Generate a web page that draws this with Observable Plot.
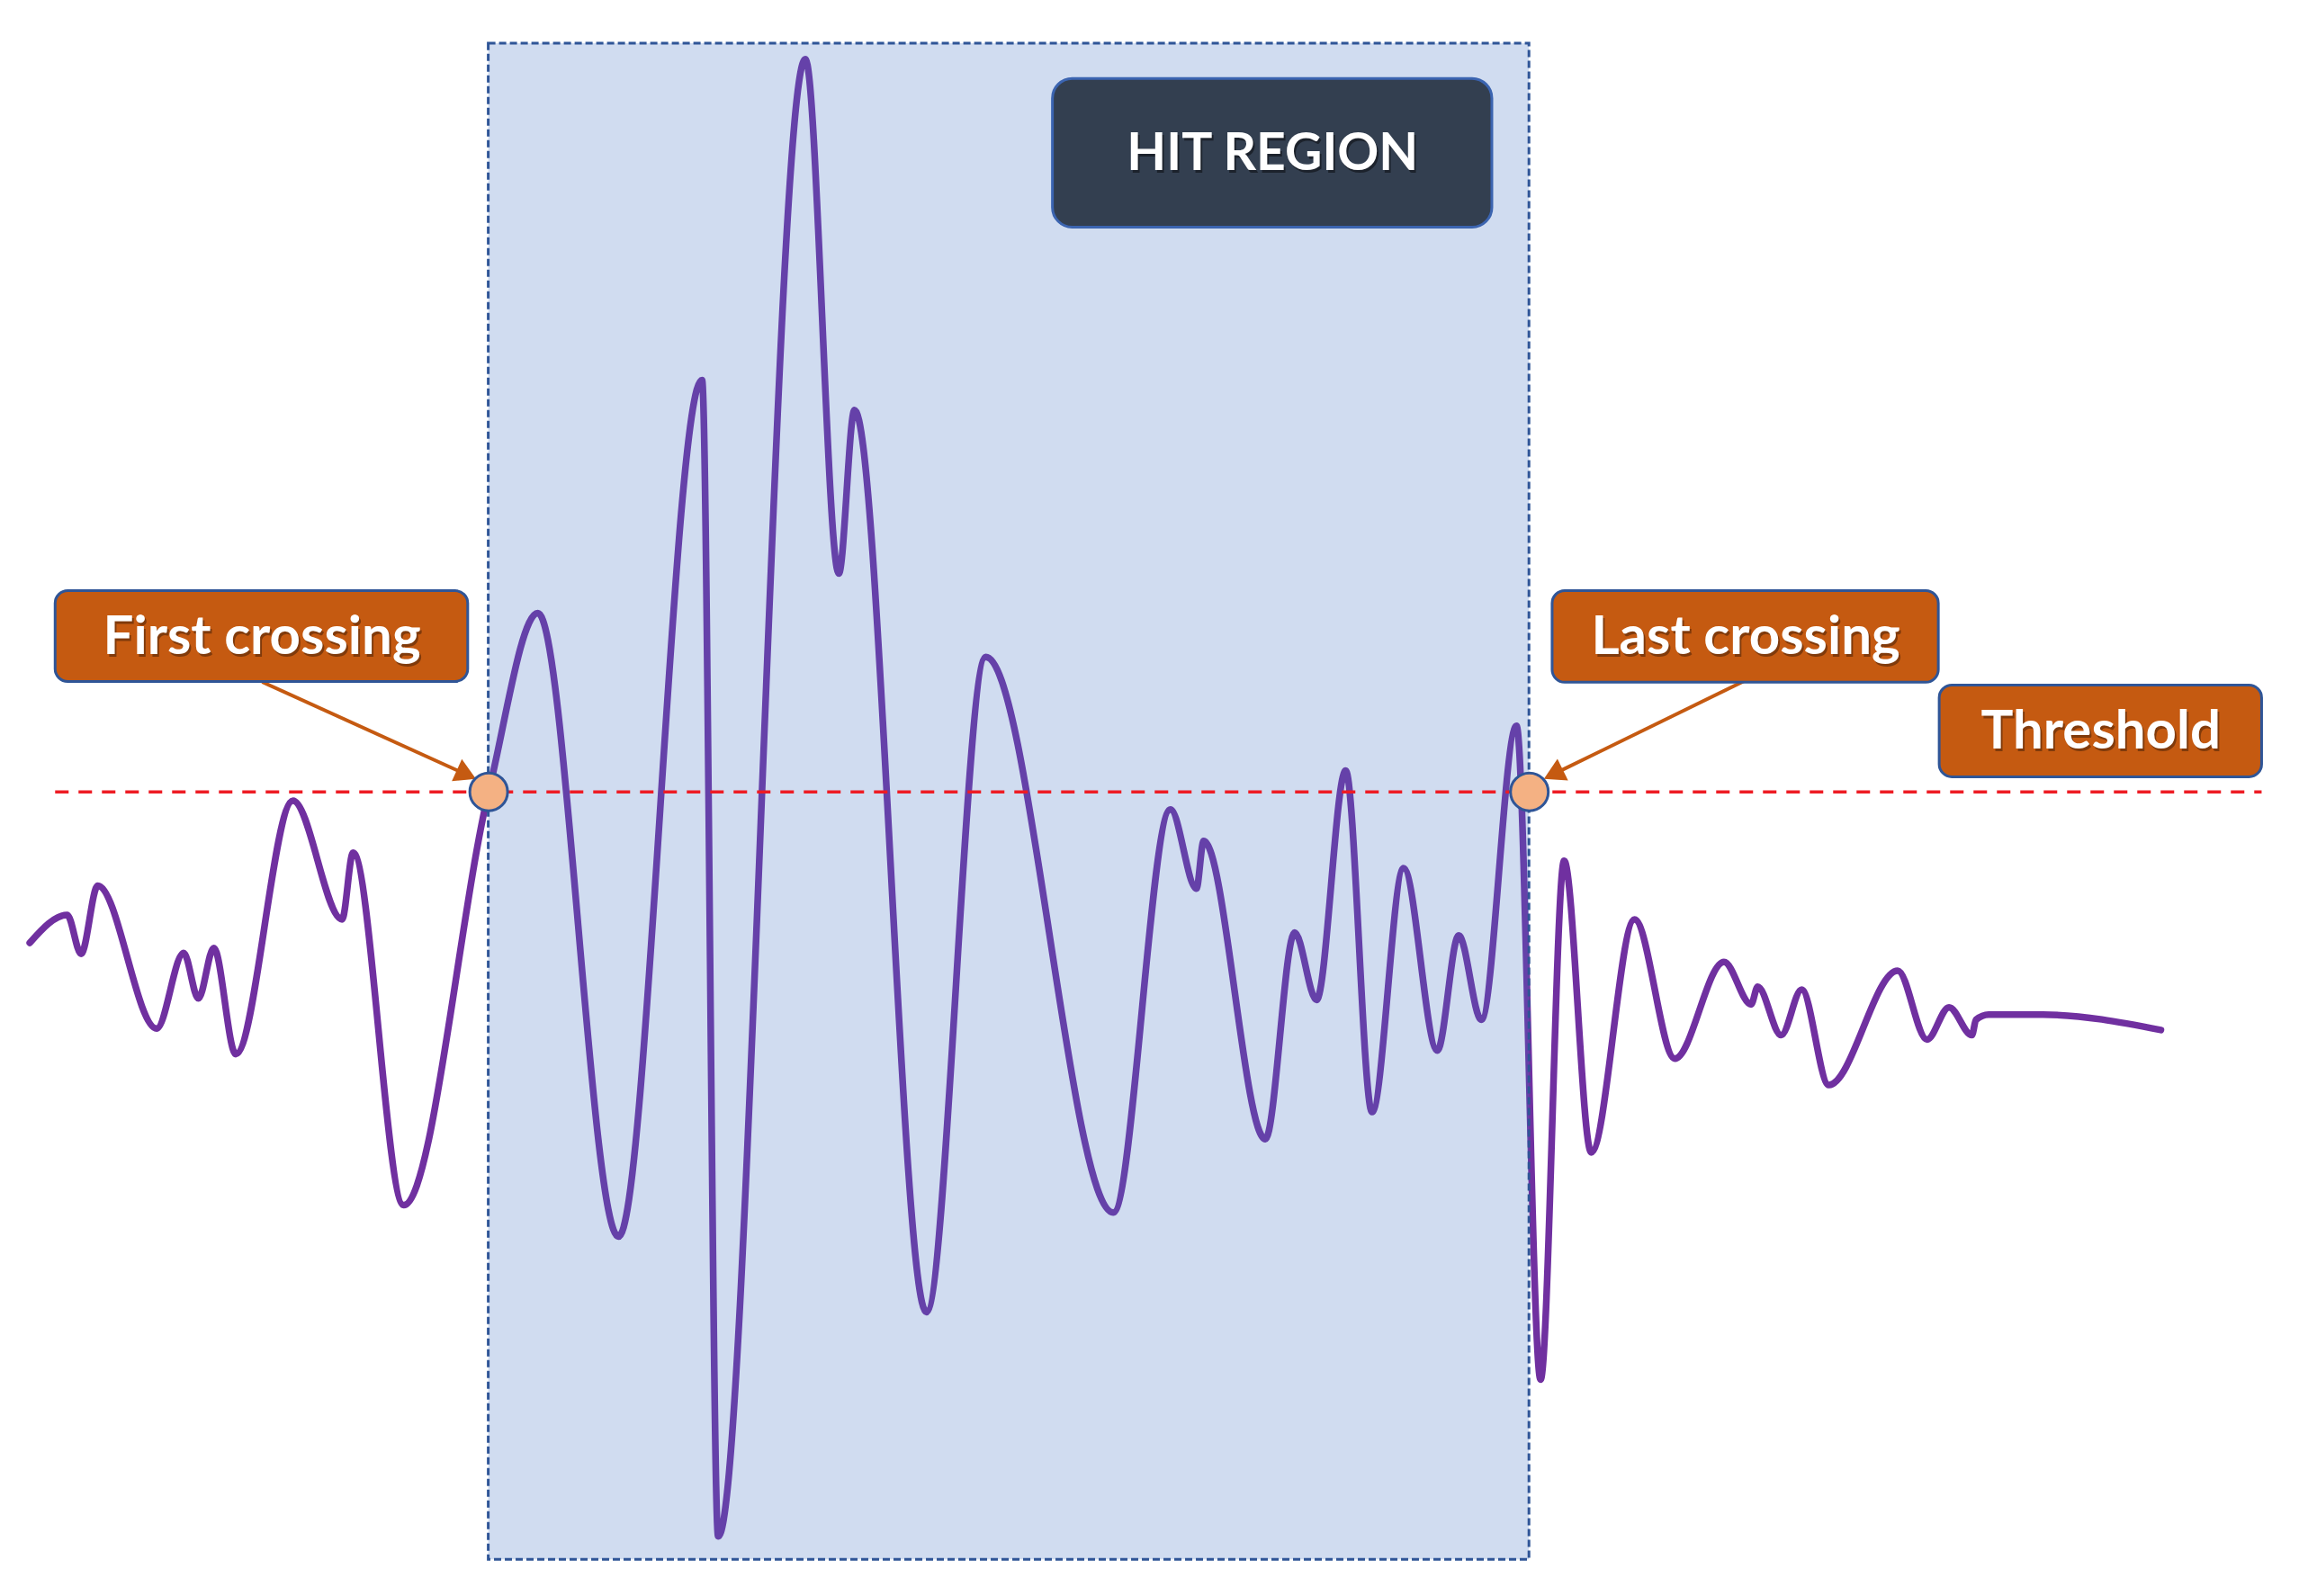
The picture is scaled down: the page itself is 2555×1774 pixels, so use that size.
<!DOCTYPE html>
<html>
<head>
<meta charset="utf-8">
<script src="https://cdn.jsdelivr.net/npm/d3@7"></script>
<script src="https://cdn.jsdelivr.net/npm/@observablehq/plot@0.6"></script>
<style>
  html, body { margin: 0; padding: 0; background: #ffffff; overflow: hidden; }
  #chart svg { display: block; }
</style>
</head>
<body>
<div id="chart"></div>
<script>
// ---- Waveform (time in samples, amplitude in % of peak; threshold = 0) ----
const times = [20, 45.5, 55, 66.4, 106.5, 125, 135, 145.5, 160.5, 199.5, 233, 240.5, 275, 333,
  366.5, 421.5, 478.5, 489.5, 549, 571.8, 582.5, 631.5, 672, 759, 798, 815.7, 820.6, 862.7,
  882.7, 897.6, 917.5, 935.5, 957, 980, 994.6, 1010, 1034, 1050.4, 1066.5, 1085, 1114.5,
  1142, 1175.5, 1194, 1198.5, 1214.5, 1228.5, 1247, 1294, 1314, 1329, 1344.6, 1347.4,
  1356, 1393, 1473.5];
const amps = [-20.6, -16.8, -22.1, -12.8, -32.3, -22, -28.2, -21.3, -35.8, -1.2, -17.4, -8.3, -56.4, 0,
  24.4, -60.7, 56.2, -101.6, 100, 29.8, 52.1, -71, 18.4, -57.4, -2.4, -13.2, -6.7, -47.4,
  -19.2, -28.4, 2.9, -43.7, -10.4, -35.3, -19.6, -31.1, 9, -80.2, -9.4, -49.2, -17.4,
  -36.4, -23.2, -29, -26.6, -33.2, -27, -40, -24.4, -33.8, -29.4, -33.2, -31.1,
  -30.4, -30.4, -32.5];

// ---- Threshold and crossings ----
const thresholdLevel = 0;
const thresholdSpan = [37.6, 1542.5];
const crossingTimes = [333, 1042.8];
const hitRegionAmps = [102.1, -104.8];

// ---- Labels ----
const labelNames = ["First crossing", "Last crossing", "Threshold"];
const labelT1 = [37.6, 1058.6, 1322.6];
const labelT2 = [319, 1322, 1542.5];
const labelA1 = [27.4, 27.4, 14.5];
const labelA2 = [15.0, 14.9, 2.0];

const titleText = "HIT REGION";
const titleBox = {t1: 717.8, t2: 1017.5, a1: 97.3, a2: 77.0};

// ---- Arrows (label -> crossing) ----
const arrowStartT = [178.5, 1189];
const arrowStartA = [15.0, 15.1];
const arrowTipT = [324, 1053];
const arrowTipA = [1.8, 1.8];

// ---- Scales ----
const W = 2555, H = 1774;
const xDomain = [0, 1568];
const yDomain = [-109.8, 108];
const pxPerT = W / (xDomain[1] - xDomain[0]);
const pxPerA = H / (yDomain[1] - yDomain[0]);

const wave = times.map((t, i) => ({t, a: amps[i]}));
const labels = labelNames.map((name, i) => ({
  name, t1: labelT1[i], t2: labelT2[i], a1: labelA1[i], a2: labelA2[i],
  tc: (labelT1[i] + labelT2[i]) / 2, ac: (labelA1[i] + labelA2[i]) / 2
}));
const titles = [{...titleBox, name: titleText, tc: (titleBox.t1 + titleBox.t2) / 2, ac: (titleBox.a1 + titleBox.a2) / 2}];
const region = [{t1: crossingTimes[0], t2: crossingTimes[1], a1: hitRegionAmps[0], a2: hitRegionAmps[1]}];
const crossings = crossingTimes.map(t => ({t, a: thresholdLevel}));

const headBack = 15; // px the triangle centroid sits behind the tip
const arrows = arrowStartT.map((t0, i) => {
  const dxp = (arrowTipT[i] - t0) * pxPerT;
  const dyp = -(arrowTipA[i] - arrowStartA[i]) * pxPerA; // screen y down
  const len = Math.hypot(dxp, dyp);
  const ux = dxp / len, uy = dyp / len;
  const rot = Math.atan2(ux, -uy) * 180 / Math.PI;
  return {
    t0, a0: arrowStartA[i],
    t1: arrowTipT[i] - ux * (headBack + 4) / pxPerT,
    a1: arrowTipA[i] + uy * (headBack + 4) / pxPerA,
    ht: arrowTipT[i] - ux * headBack / pxPerT,
    ha: arrowTipA[i] + uy * headBack / pxPerA,
    rot
  };
});

const orange = "#c55a11";
const blueEdge = "#2f5597";
const font = "Lato, 'Open Sans', sans-serif";

const chart = Plot.plot({
  width: W,
  height: H,
  margin: 0,
  x: {domain: xDomain, axis: null},
  y: {domain: yDomain, axis: null},
  style: {background: "#ffffff"},
  marks: [
    // waveform
    Plot.line(wave, {x: "t", y: "a", curve: "monotone-x", stroke: "#7030a0", strokeWidth: 7.5,
      strokeLinejoin: "round", strokeLinecap: "round"}),
    // hit region (translucent overlay)
    Plot.rect(region, {x1: "t1", x2: "t2", y1: "a1", y2: "a2", fill: "#4472c4", fillOpacity: 0.25}),
    Plot.rect(region, {x1: "t1", x2: "t2", y1: "a1", y2: "a2", fill: "none", stroke: blueEdge,
      strokeWidth: 3, strokeDasharray: "8,4"}),
    // threshold
    Plot.ruleY([thresholdLevel], {x1: thresholdSpan[0], x2: thresholdSpan[1], stroke: "#ee1c24",
      strokeWidth: 3.5, strokeDasharray: "15,11"}),
    // arrows
    Plot.link(arrows, {x1: "t0", y1: "a0", x2: "t1", y2: "a1", stroke: orange, strokeWidth: 4}),
    Plot.dot(arrows, {x: "ht", y: "ha", symbol: "triangle", r: 10, fill: orange, stroke: "none", rotate: "rot"}),
    // crossing markers
    Plot.dot(crossings, {x: "t", y: "a", r: 21, fill: "#f4b183", stroke: blueEdge, strokeWidth: 3}),
    // orange labels
    Plot.rect(labels, {x1: "t1", x2: "t2", y1: "a1", y2: "a2", fill: orange, stroke: blueEdge,
      strokeWidth: 3, rx: 14}),
    Plot.text(labels, {x: "tc", y: "ac", text: "name", fill: "rgba(0,0,0,0.35)", fontSize: 60,
      fontWeight: "bold", fontFamily: font, dx: 2, dy: 3}),
    Plot.text(labels, {x: "tc", y: "ac", text: "name", fill: "#ffffff", fontSize: 60,
      fontWeight: "bold", fontFamily: font}),
    // HIT REGION title
    Plot.rect(titles, {x1: "t1", x2: "t2", y1: "a1", y2: "a2", fill: "#333f50", stroke: "#3b64b0",
      strokeWidth: 3, rx: 22}),
    Plot.text(titles, {x: "tc", y: "ac", text: "name", fill: "rgba(0,0,0,0.45)", fontSize: 57,
      fontWeight: "bold", fontFamily: font, dx: 2, dy: 3}),
    Plot.text(titles, {x: "tc", y: "ac", text: "name", fill: "#ffffff", fontSize: 57,
      fontWeight: "bold", fontFamily: font})
  ]
});

document.getElementById("chart").appendChild(chart);
</script>
</body>
</html>
